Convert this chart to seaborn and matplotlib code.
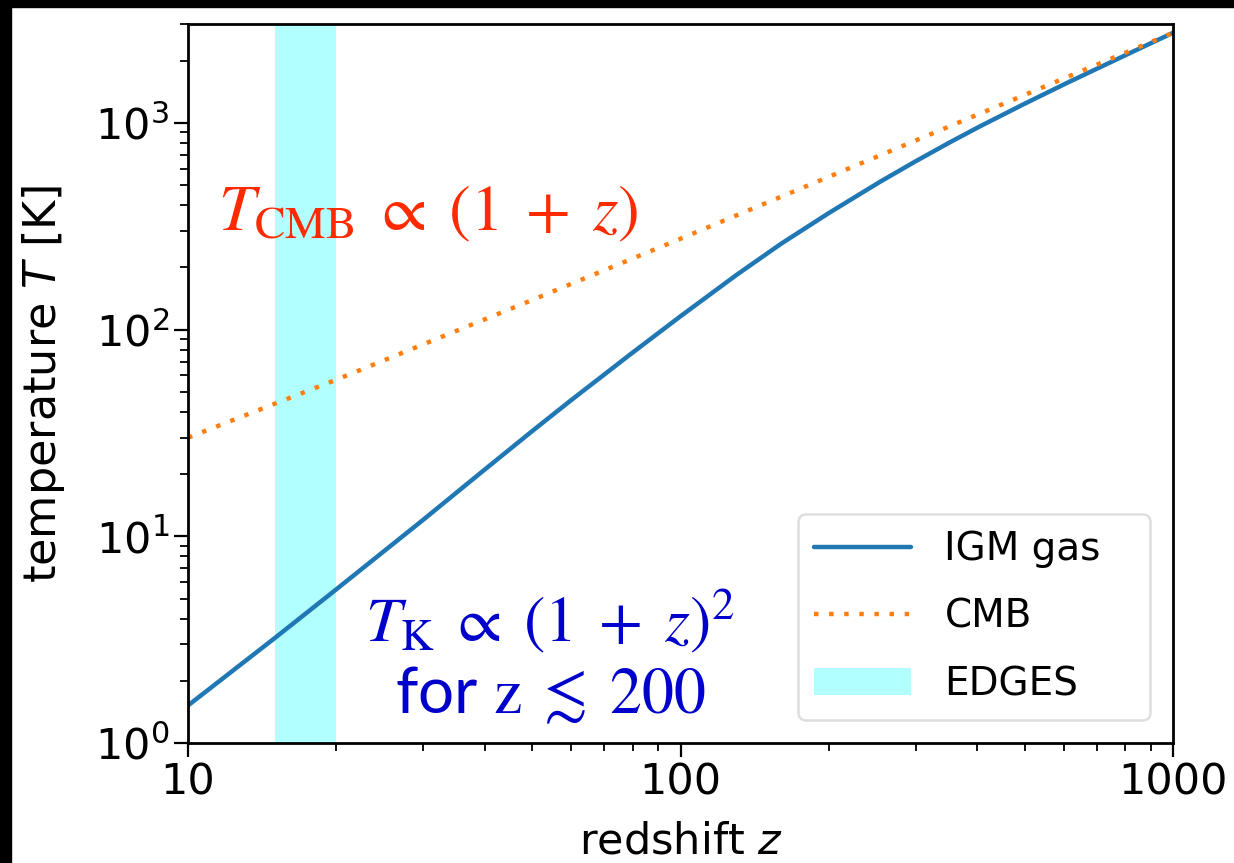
import matplotlib
matplotlib.use("Agg")
import matplotlib.pyplot as plt
import seaborn as sns
import pandas as pd
from matplotlib.patches import Rectangle

# Data
z_igm = [10, 15, 20, 30, 40, 50, 60, 70, 80, 100, 130, 160, 200, 254, 300, 350, 405, 500, 610, 830, 1000]
T_igm = [1.52, 3.22, 5.54, 12.0, 21.0, 32.3, 45.6, 60.6, 77.5, 116, 184, 260, 366, 518, 651, 798, 960, 1238, 1562, 2212, 2725]
z_cmb = [10, 20, 50, 100, 200, 500, 1000]
T_cmb = [30.0, 57.2, 139, 275, 548, 1365, 2728]
edges_range = [15, 20]
labels = ["IGM gas", "CMB", "EDGES"]

sns.set_style("ticks", rc={"text.color": "black", "axes.labelcolor": "black",
                           "xtick.color": "black", "ytick.color": "black",
                           "axes.edgecolor": "black"})
plt.rcParams["font.family"] = ["DejaVu Sans"]

fig = plt.figure(figsize=(12.34, 8.63), dpi=100)
ax = fig.add_axes([0.1524, 0.139, 0.7982, 0.833])

df_igm = pd.DataFrame({"z": z_igm, "T": T_igm})
df_cmb = pd.DataFrame({"z": z_cmb, "T": T_cmb})

ax.axvspan(edges_range[0], edges_range[1], color="cyan", alpha=0.3, lw=0, label=labels[2])
sns.lineplot(data=df_igm, x="z", y="T", ax=ax, color="#1f77b4", lw=3.2, label=labels[0])
sns.lineplot(data=df_cmb, x="z", y="T", ax=ax, color="#ff7f0e", lw=3.2, label=labels[1])
ax.lines[-1].set_linestyle((0, (1, 2.4)))

ax.set_xscale("log")
ax.set_yscale("log")
ax.set_xlim(10, 1000)
ax.set_ylim(1, 3000)
ax.set_xticks([10, 100, 1000])
ax.set_xticklabels(["10", "100", "1000"])

ax.set_xlabel(r"redshift $z$", fontsize=31, labelpad=12)
ax.set_ylabel(r"temperature $T$ [K]", fontsize=32, labelpad=20)
ax.tick_params(axis="both", which="major", labelsize=31, length=10, width=1.6, direction="out")
ax.tick_params(axis="both", which="minor", length=6, width=1.3, direction="out")
for s in ax.spines.values():
    s.set_linewidth(2)

h, l = ax.get_legend_handles_labels()
order = [l.index(x) for x in labels]
shown = [labels[0] + "  \u2009", labels[1], labels[2]]
leg = ax.legend([h[i] for i in order], shown, loc="lower right",
                fontsize=28, frameon=True, handlelength=2.5, borderpad=0.42,
                labelspacing=0.76, handletextpad=0.85, borderaxespad=0.6)
leg.get_frame().set_linewidth(1.8)
leg.get_frame().set_edgecolor("#d6d6d6")

ax.text(0.030, 0.738, r"$T_\mathrm{CMB}\;\propto\;(1\;+\;z)$", transform=ax.transAxes,
        fontsize=47, color="#ff2a00", math_fontfamily="stix", ha="left", va="center")
ax.text(0.367, 0.171, r"$T_\mathrm{K}\;\propto\;(1\;+\;z)^2$", transform=ax.transAxes,
        fontsize=46, color="#0000cd", math_fontfamily="stix", ha="center", va="center")
ax.text(0.368, 0.067, r"for $\mathrm{z}\;\lesssim\;200$", transform=ax.transAxes,
        fontsize=46, color="#0000cd", math_fontfamily="stix", family="Lato",
        ha="center", va="center")

# black border strips at the top and left edges
fig.patches.append(Rectangle((0, 1 - 7 / 863), 1, 7 / 863, transform=fig.transFigure, color="black", zorder=10))
fig.patches.append(Rectangle((0, 0), 11 / 1234, 1, transform=fig.transFigure, color="black", zorder=10))

fig.savefig("out.png", dpi=100)
